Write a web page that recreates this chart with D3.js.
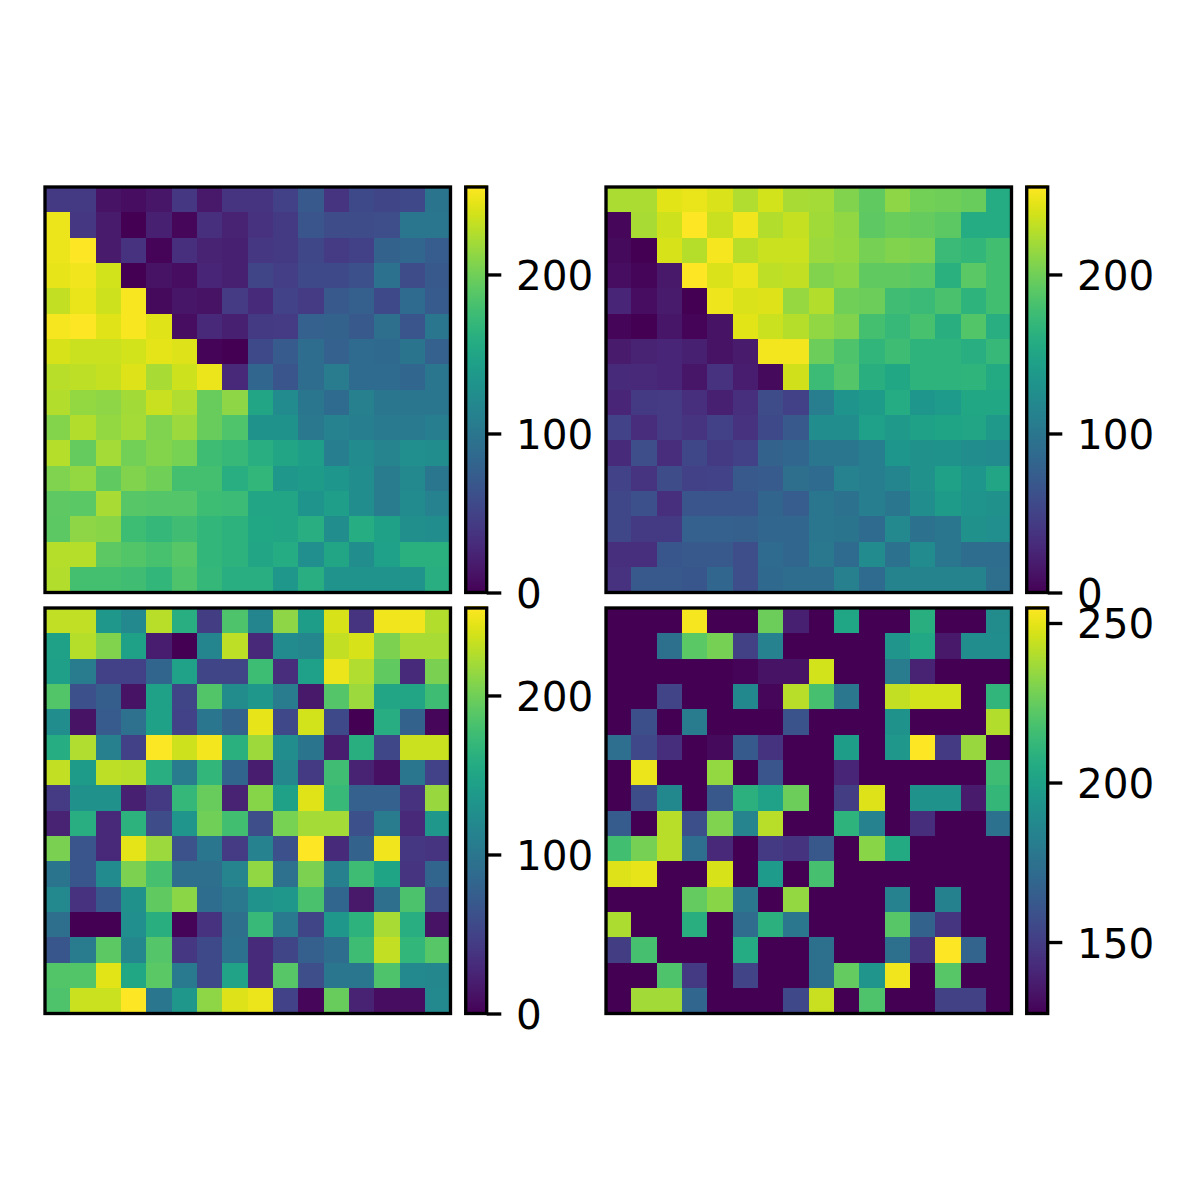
<!DOCTYPE html>
<html>
<head>
<meta charset="utf-8">
<script src="https://cdn.jsdelivr.net/npm/d3@7"></script>
<style>
  html, body { margin: 0; padding: 0; background: #fff; }
  svg { display: block; }
  text { font-family: "DejaVu Sans", sans-serif; }
</style>
</head>
<body>
<svg id="chart" width="1200" height="1200"></svg>
<script>
// Four 16x16 grids of values, one heat map each.
const gridTopLeft = [
  [42,42,12,8,14,40,16,38,38,48,70,38,56,52,55,98],
  [248,40,18,0,22,4,34,24,36,42,66,58,58,60,100,100],
  [248,255,18,36,2,34,24,22,40,42,54,44,48,80,84,74],
  [246,250,238,0,12,8,26,22,52,46,56,56,62,95,58,70],
  [232,247,236,253,6,14,12,44,30,50,44,70,76,56,88,72],
  [252,255,243,253,243,8,28,22,42,44,78,80,70,92,66,100],
  [240,235,235,238,245,242,2,0,56,72,90,78,88,86,98,78],
  [228,230,233,242,222,236,248,28,84,66,90,106,88,88,84,100],
  [226,214,212,220,234,225,196,212,150,122,100,88,110,100,100,100],
  [208,226,214,221,206,217,196,185,130,130,102,112,108,104,104,108],
  [227,195,221,201,208,203,176,171,160,150,142,108,122,115,126,124],
  [206,214,193,207,200,179,179,160,168,136,140,134,125,106,120,100],
  [192,190,222,188,187,187,175,174,150,150,132,142,125,106,122,113],
  [191,212,210,175,170,177,168,164,152,150,160,125,158,145,127,125],
  [227,227,191,186,181,188,168,164,150,157,126,150,125,144,162,162],
  [226,179,179,177,168,184,170,160,160,135,160,131,131,131,131,160]
];
const gridTopRight = [
  [223,223,244,247,241,225,238,222,221,207,193,212,201,199,196,157],
  [4,222,236,255,234,250,226,233,219,213,192,197,195,191,157,157],
  [6,0,240,227,252,228,235,235,217,214,202,207,205,173,168,178],
  [8,3,16,255,241,248,230,232,207,211,193,193,190,162,190,178],
  [26,8,18,0,249,241,242,215,226,200,198,177,173,182,165,178],
  [3,0,14,2,12,244,235,227,213,207,179,171,181,161,186,160],
  [18,24,26,22,12,18,251,251,198,184,167,176,165,165,160,171],
  [30,28,26,14,36,20,6,237,174,187,161,152,165,165,166,155],
  [26,42,44,34,22,34,58,48,107,132,140,157,134,139,152,152],
  [50,32,44,38,48,36,56,70,125,125,144,137,146,149,150,138],
  [30,60,32,54,42,48,80,84,100,100,108,134,128,130,124,122],
  [50,38,58,48,50,70,72,92,88,112,108,116,128,145,134,150],
  [54,62,34,66,66,66,82,74,100,96,108,100,124,140,132,128],
  [54,42,42,78,78,76,84,84,100,98,88,120,96,100,128,126],
  [34,34,68,70,70,60,88,84,102,88,122,96,122,100,90,90],
  [36,70,70,68,84,60,86,90,90,110,88,114,114,114,114,92]
];
const gridBottomLeft = [
  [231,231,136,120,228,160,45,184,116,212,141,240,38,250,250,226],
  [145,227,207,146,20,0,116,230,28,122,118,232,240,205,222,222],
  [143,105,48,48,82,147,52,52,175,32,144,248,225,193,30,204],
  [186,62,75,12,146,52,186,123,136,105,16,187,217,150,150,176],
  [125,12,72,94,146,50,100,80,246,55,238,56,0,159,80,4],
  [158,225,110,48,254,236,251,162,218,124,98,20,161,54,235,235],
  [232,140,230,228,160,105,168,82,20,118,42,177,24,10,100,50],
  [44,128,128,22,42,170,196,24,209,146,243,172,78,78,36,216],
  [24,160,28,164,58,133,200,178,60,203,221,221,62,105,28,135],
  [204,66,28,245,217,64,100,44,112,62,255,30,80,250,40,38],
  [98,68,122,205,180,92,92,115,213,94,205,110,176,149,38,82],
  [120,36,68,128,193,211,90,102,131,135,182,84,16,92,183,60],
  [92,0,0,126,161,2,36,92,172,104,52,135,164,222,160,12],
  [68,106,191,118,187,40,56,96,30,52,76,90,176,232,168,188],
  [186,186,244,152,190,104,56,148,30,188,60,100,100,184,120,118],
  [184,235,235,255,100,136,212,242,248,50,4,196,24,8,8,120]
];
const gridBottomRight = [
  [128,128,128,253,128,128,226,139,128,203,128,128,208,128,128,189],
  [128,128,174,222,228,152,184,128,128,128,128,194,204,136,190,190],
  [128,128,128,128,128,129,134,134,246,128,128,180,140,128,128,128],
  [128,128,153,128,128,187,130,241,217,178,128,243,246,246,128,211],
  [128,158,128,180,128,128,128,160,128,128,128,192,128,128,128,240],
  [173,155,144,128,131,163,146,128,128,198,128,195,255,149,235,128],
  [128,251,128,128,234,128,161,128,128,141,128,128,128,128,128,215],
  [128,157,187,128,162,209,201,226,128,150,248,128,192,192,137,212],
  [164,128,241,158,230,185,241,128,128,210,184,128,144,128,128,175],
  [216,228,241,173,142,128,149,146,162,128,232,205,128,128,128,128],
  [248,250,128,128,247,128,197,128,217,128,128,128,128,128,128,128],
  [128,128,128,224,232,178,128,234,128,128,128,184,128,183,128,128],
  [239,128,128,208,128,172,209,178,128,128,128,221,167,147,128,128],
  [150,217,128,128,128,206,128,128,174,128,128,174,146,255,168,128],
  [128,128,219,149,128,153,128,128,174,224,194,252,128,221,128,128],
  [128,237,237,169,128,128,128,155,244,128,219,128,128,152,152,128]
];

// Colour bar tick labels for each panel.
const ticksStandard = [0, 100, 200];
const ticksThresholded = [150, 200, 250];

// Colour limits for each panel.
const limitsStandard = [0, 255];
const limitsThresholded = [127.6, 254.7];

const panels = [
  { grid: gridTopLeft,     x: 45,  y: 187, ticks: ticksStandard,    limits: limitsStandard },
  { grid: gridTopRight,    x: 606, y: 187, ticks: ticksStandard,    limits: limitsStandard },
  { grid: gridBottomLeft,  x: 45,  y: 608, ticks: ticksStandard,    limits: limitsStandard },
  { grid: gridBottomRight, x: 606, y: 608, ticks: ticksThresholded, limits: limitsThresholded }
];

const SIZE = 405.5;
const BAR_GAP = 15.2;
const BAR_W = 21;
const LINE_W = 3.33;
const FONT_PX = 40.5;
const TICK_LEN = 14.6;
const TICK_PAD = 14.6;

const svg = d3.select("#chart");
svg.append("rect").attr("width", 1200).attr("height", 1200).attr("fill", "#fff");

panels.forEach(p => {
  const [lo, hi] = p.limits;
  const color = d3.scaleSequential(d3.interpolateViridis).domain([lo, hi]).clamp(true);

  const xBand = d3.scaleBand().domain(d3.range(16)).range([0, SIZE]);
  const yBand = d3.scaleBand().domain(d3.range(16)).range([0, SIZE]);

  const g = svg.append("g").attr("transform", `translate(${p.x},${p.y})`);

  // Heat map cells, row by row.
  g.selectAll("g.row").data(p.grid).join("g")
    .attr("class", "row")
    .selectAll("rect")
    .data((row, r) => row.map((v, c) => ({ v, r, c })))
    .join("rect")
    .attr("x", d => xBand(d.c))
    .attr("y", d => yBand(d.r))
    .attr("width", xBand.bandwidth() + 0.3)
    .attr("height", yBand.bandwidth() + 0.3)
    .attr("shape-rendering", "crispEdges")
    .attr("fill", d => color(d.v));

  g.append("rect")
    .attr("width", SIZE).attr("height", SIZE)
    .attr("fill", "none").attr("stroke", "#000").attr("stroke-width", LINE_W);

  // Colour bar: a stack of thin strips, one per level.
  const barScale = d3.scaleLinear().domain([lo, hi]).range([SIZE, 0]);
  const levels = d3.range(256).map(i => lo + (hi - lo) * i / 255);
  const bar = g.append("g").attr("transform", `translate(${SIZE + BAR_GAP},0)`);
  bar.selectAll("rect").data(levels).join("rect")
    .attr("x", 0)
    .attr("width", BAR_W)
    .attr("y", d => barScale(d) - SIZE / 256)
    .attr("height", SIZE / 256 + 1)
    .attr("shape-rendering", "crispEdges")
    .attr("fill", d => color(d));

  bar.append("rect")
    .attr("width", BAR_W).attr("height", SIZE)
    .attr("fill", "none").attr("stroke", "#000").attr("stroke-width", LINE_W);

  const axis = d3.axisRight(barScale)
    .tickValues(p.ticks)
    .tickSize(TICK_LEN)
    .tickPadding(TICK_PAD)
    .tickFormat(d3.format("d"));

  const axisG = bar.append("g")
    .attr("transform", `translate(${BAR_W},0)`)
    .call(axis);
  axisG.select(".domain").remove();
  axisG.selectAll("line").attr("stroke", "#000").attr("stroke-width", LINE_W);
  axisG.selectAll("text")
    .attr("dy", "0.37em")
    .attr("font-size", FONT_PX)
    .attr("font-family", '"DejaVu Sans", sans-serif')
    .attr("fill", "#000");
});
</script>
</body>
</html>
